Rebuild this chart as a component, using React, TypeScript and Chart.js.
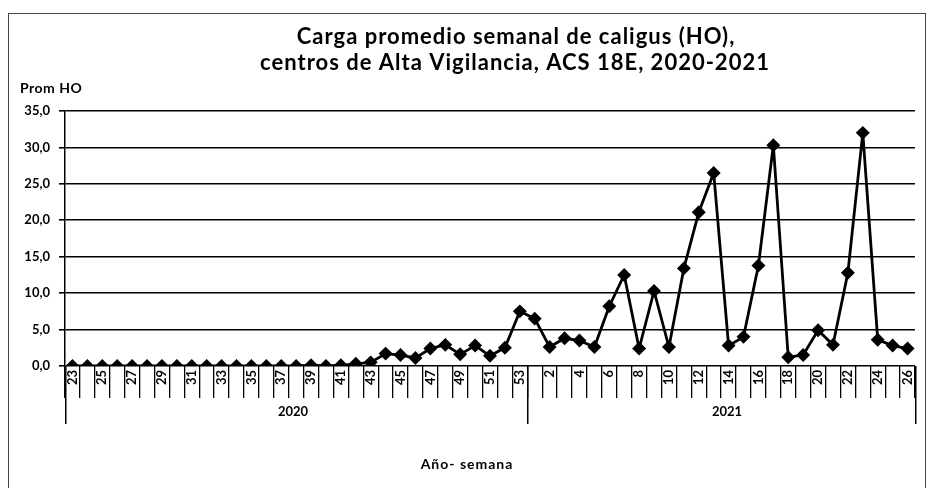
import React, { useEffect, useRef } from "react";
import { Chart, registerables } from "chart.js";

Chart.register(...registerables);

const weeks2020 = ["23","24","25","26","27","28","29","30","31","32","33","34","35","36","37","38","39","40","41","42","43","44","45","46","47","48","49","50","51","52","53"];
const weeks2021 = ["1","2","3","4","5","6","7","8","9","10","11","12","13","14","15","16","17","18","19","20","21","22","23","24","25","26"];
const values2020 = [0, 0, 0, 0, 0, 0, 0, 0, 0, 0, 0, 0, 0, 0, 0, 0, 0.1, 0, 0.1, 0.3, 0.5, 1.7, 1.5, 1.1, 2.4, 2.9, 1.6, 2.8, 1.4, 2.5, 7.5];
const values2021 = [6.5, 2.6, 3.8, 3.5, 2.6, 8.2, 12.5, 2.4, 10.3, 2.6, 13.4, 21.1, 26.5, 2.8, 4.0, 13.8, 30.3, 1.2, 1.5, 4.9, 2.9, 12.8, 32.0, 3.6, 2.8, 2.4];
const yearLabels = ["2020", "2021"];
const titleLines = ["Carga promedio semanal de caligus (HO),", "centros de Alta Vigilancia, ACS 18E, 2020-2021"];
const yAxisTitle = "Prom HO";
const xAxisTitle = "Año- semana";

const FONT = "Lato, 'Open Sans', sans-serif";

export default function App() {
  const ref = useRef<HTMLCanvasElement | null>(null);
  useEffect(() => {
    if (!ref.current) return;
    const labels = [...weeks2020, ...weeks2021];
    const data = [...values2020, ...values2021];
    const n2020 = weeks2020.length;

    const decor = {
      id: "decor",
      afterDraw(chart: any) {
        const ctx = chart.ctx;
        const area = chart.chartArea;
        const xs = chart.scales.x;
        ctx.save();
        // outer frame
        ctx.strokeStyle = "#444";
        ctx.lineWidth = 1;
        ctx.strokeRect(8.5, 13.5, 917, 480);
        // title
        ctx.fillStyle = "#000";
        ctx.textAlign = "center";
        ctx.textBaseline = "middle";
        ctx.font = `bold 22px ${FONT}`;
        (ctx as any).letterSpacing = "1px";
        ctx.fillText(titleLines[0], 516, 37);
        ctx.fillText(titleLines[1], 515, 63);
        // y title
        ctx.textAlign = "left";
        ctx.font = `bold 14px ${FONT}`;
        (ctx as any).letterSpacing = "0.5px";
        ctx.fillText(yAxisTitle, 20, 88);
        (ctx as any).letterSpacing = "0px";
        // group separators
        const n = labels.length;
        const half = (xs.getPixelForValue(1) - xs.getPixelForValue(0)) / 2;
        const y0 = Math.round(area.bottom);
        const sep = Math.round(xs.getPixelForValue(n2020) - half);
        const lft = Math.round(area.left);
        const rgt = Math.round(xs.getPixelForValue(n - 1) + half);
        ctx.fillStyle = "#000";
        for (const px of [lft, sep, rgt]) {
          ctx.fillRect(px, y0, 1.5, 58);
        }
        // year labels
        ctx.textAlign = "center";
        ctx.font = `bold 13px ${FONT}`;
        ctx.fillText(yearLabels[0], (lft + sep) / 2 - 3, area.bottom + 46);
        ctx.fillText(yearLabels[1], (sep + rgt) / 2 + 6, area.bottom + 46);
        // x title
        ctx.font = `bold 14px ${FONT}`;
        (ctx as any).letterSpacing = "1px";
        ctx.fillText(xAxisTitle, 467, 464);
        ctx.restore();
      },
    };

    const chart = new Chart(ref.current, {
      type: "line",
      data: {
        labels,
        datasets: [
          {
            data,
            borderColor: "#000",
            backgroundColor: "#000",
            borderWidth: 2.8,
            pointStyle: "rectRot",
            pointRadius: 5,
            pointBackgroundColor: "#000",
            pointBorderColor: "#000",
            tension: 0,
          },
        ],
      },
      options: {
        responsive: false,
        animation: false,
        layout: { padding: { left: 0, right: 17, top: 111, bottom: 0 } },
        plugins: { legend: { display: false }, tooltip: { enabled: false }, title: { display: false } },
        scales: {
          x: {
            type: "category",
            offset: true,
            grid: {
              display: true,
              offset: true,
              drawOnChartArea: false,
              drawTicks: true,
              tickLength: 32,
              color: "#000",
              tickColor: "#000",
              lineWidth: 1.3,
              tickWidth: 1.3,
            },
            border: { display: false },
            afterFit: (s: any) => { s.height = 122; },
            ticks: {
              autoSkip: false,
              maxRotation: 90,
              minRotation: 90,
              padding: -28,
              color: "#000",
              font: { family: FONT, size: 13, weight: "bold" },
              callback: (_v: any, i: number) => (i % 2 === 0 ? labels[i] : ""),
            },
          },
          y: {
            min: 0,
            max: 35,
            afterFit: (s: any) => { s.width = 65; },
            ticks: {
              stepSize: 5,
              padding: 9,
              color: "#000",
              font: { family: FONT, size: 13, weight: "bold" },
              callback: (v: any) => Number(v).toFixed(1).replace(".", ","),
            },
            grid: { color: "#000", lineWidth: 1.6, tickLength: 6 },
            border: { display: true, color: "#000", width: 1.5 },
          },
        },
      },
      plugins: [decor],
    });
    return () => chart.destroy();
  }, []);

  return (
    <div style={{ position: "fixed", left: 0, top: 0, width: 932, height: 488, background: "#fff" }}>
      <canvas ref={ref} width={932} height={488} style={{ width: 932, height: 488, display: "block" }} />
    </div>
  );
}
